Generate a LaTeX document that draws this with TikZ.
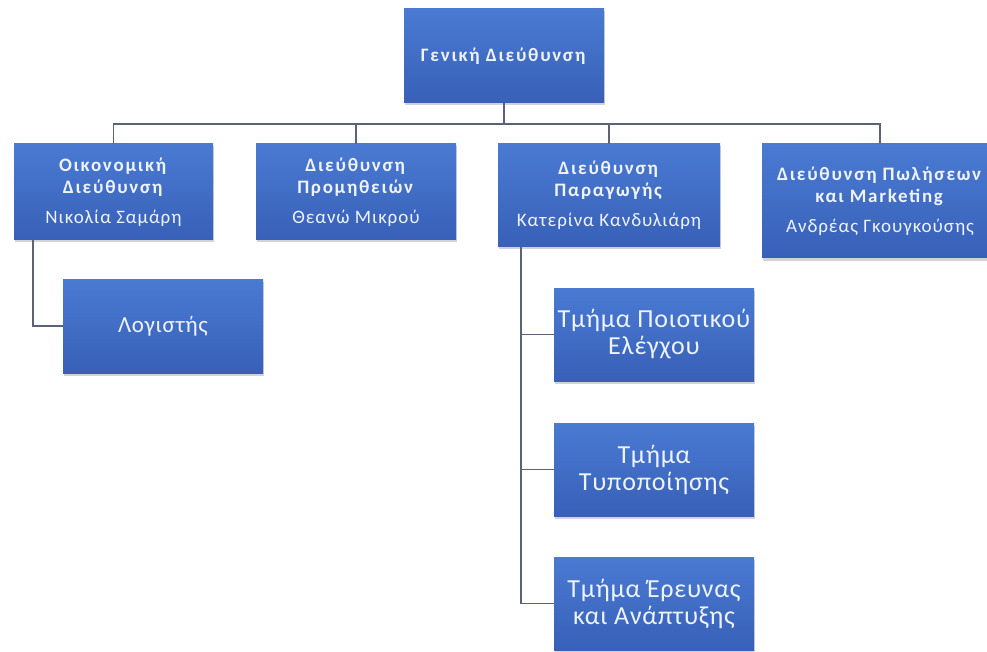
\documentclass[tikz,border=0pt]{standalone}
\usepackage{fontspec}
\setmainfont{Carlito}
\newfontfamily\headfont[LetterSpace=5,BoldFeatures={LetterSpace=9}]{Carlito}
\newfontfamily\unitfont[LetterSpace=3]{Carlito}
\usetikzlibrary{shadows}
\definecolor{orgblue}{HTML}{4A7AD2}
\definecolor{orgdeep}{HTML}{3860B8}
\definecolor{orgline}{HTML}{5A6378}
\definecolor{orgtext}{HTML}{EEF3FC}

\begin{document}
\begin{tikzpicture}[x=1pt,y=-1pt,
  box/.style={rectangle,top color=orgblue,bottom color=orgdeep,draw=none,align=center,
    text=orgtext,inner sep=2pt,minimum width=200pt,minimum height=94pt,
    drop shadow={shadow xshift=1pt,shadow yshift=-2.5pt,opacity=0.35}},
  head/.style={box,font=\headfont\fontsize{19}{22}\selectfont},
  unit/.style={box,font=\unitfont\fontsize{26}{27}\selectfont},
  link/.style={draw=orgline,line width=1.5pt}]
\useasboundingbox (0,0) rectangle (987,652);
\node[head] (gen) at (504,56) {\textbf{Γενική Διεύθυνση}};
\node[head,minimum width=199pt,minimum height=96pt] (oik) at (113.5,192) {\textbf{Οικονομική}\\ \textbf{Διεύθυνση}\\[8pt] Νικολία Σαμάρη};
\node[head,minimum height=96pt] (prom) at (356,192) {\textbf{Διεύθυνση}\\ \textbf{Προμηθειών}\\[8pt] Θεανώ Μικρού};
\node[head,minimum width=222pt,minimum height=103pt] (par) at (609,195.5) {\textbf{Διεύθυνση}\\ \textbf{Παραγωγής}\\[8pt] Κατερίνα Κανδυλιάρη};
\node[head,minimum width=236pt,minimum height=114pt] (pol) at (880,201) {\textbf{Διεύθυνση Πωλήσεων}\\ \textbf{και Marketing}\\[8pt] Ανδρέας Γκουγκούσης};
\node[unit,font=\unitfont\fontsize{23}{26}\selectfont] (log) at (163,326) {Λογιστής};
\node[unit,minimum height=93pt] (poi) at (654,334.5) {Τμήμα Ποιοτικού\\ Ελέγχου};
\node[unit,minimum height=93pt] (typ) at (654,469.5) {Τμήμα\\ Τυποποίησης};
\node[unit,minimum height=93pt] (ere) at (654,603.5) {Τμήμα Έρευνας\\ και Ανάπτυξης};
% connectors
\coordinate (bus) at (0,124);
\foreach \d in {oik,prom,par,pol}
  \draw[link] (gen.south) -- (gen.south |- bus) -| (\d.north);
\draw[link] ([xshift=19pt]oik.south west) |- (log.west);
\foreach \t in {poi,typ,ere}
  \draw[link] ([xshift=23pt]par.south west) |- (\t.west);
\end{tikzpicture}
\end{document}
